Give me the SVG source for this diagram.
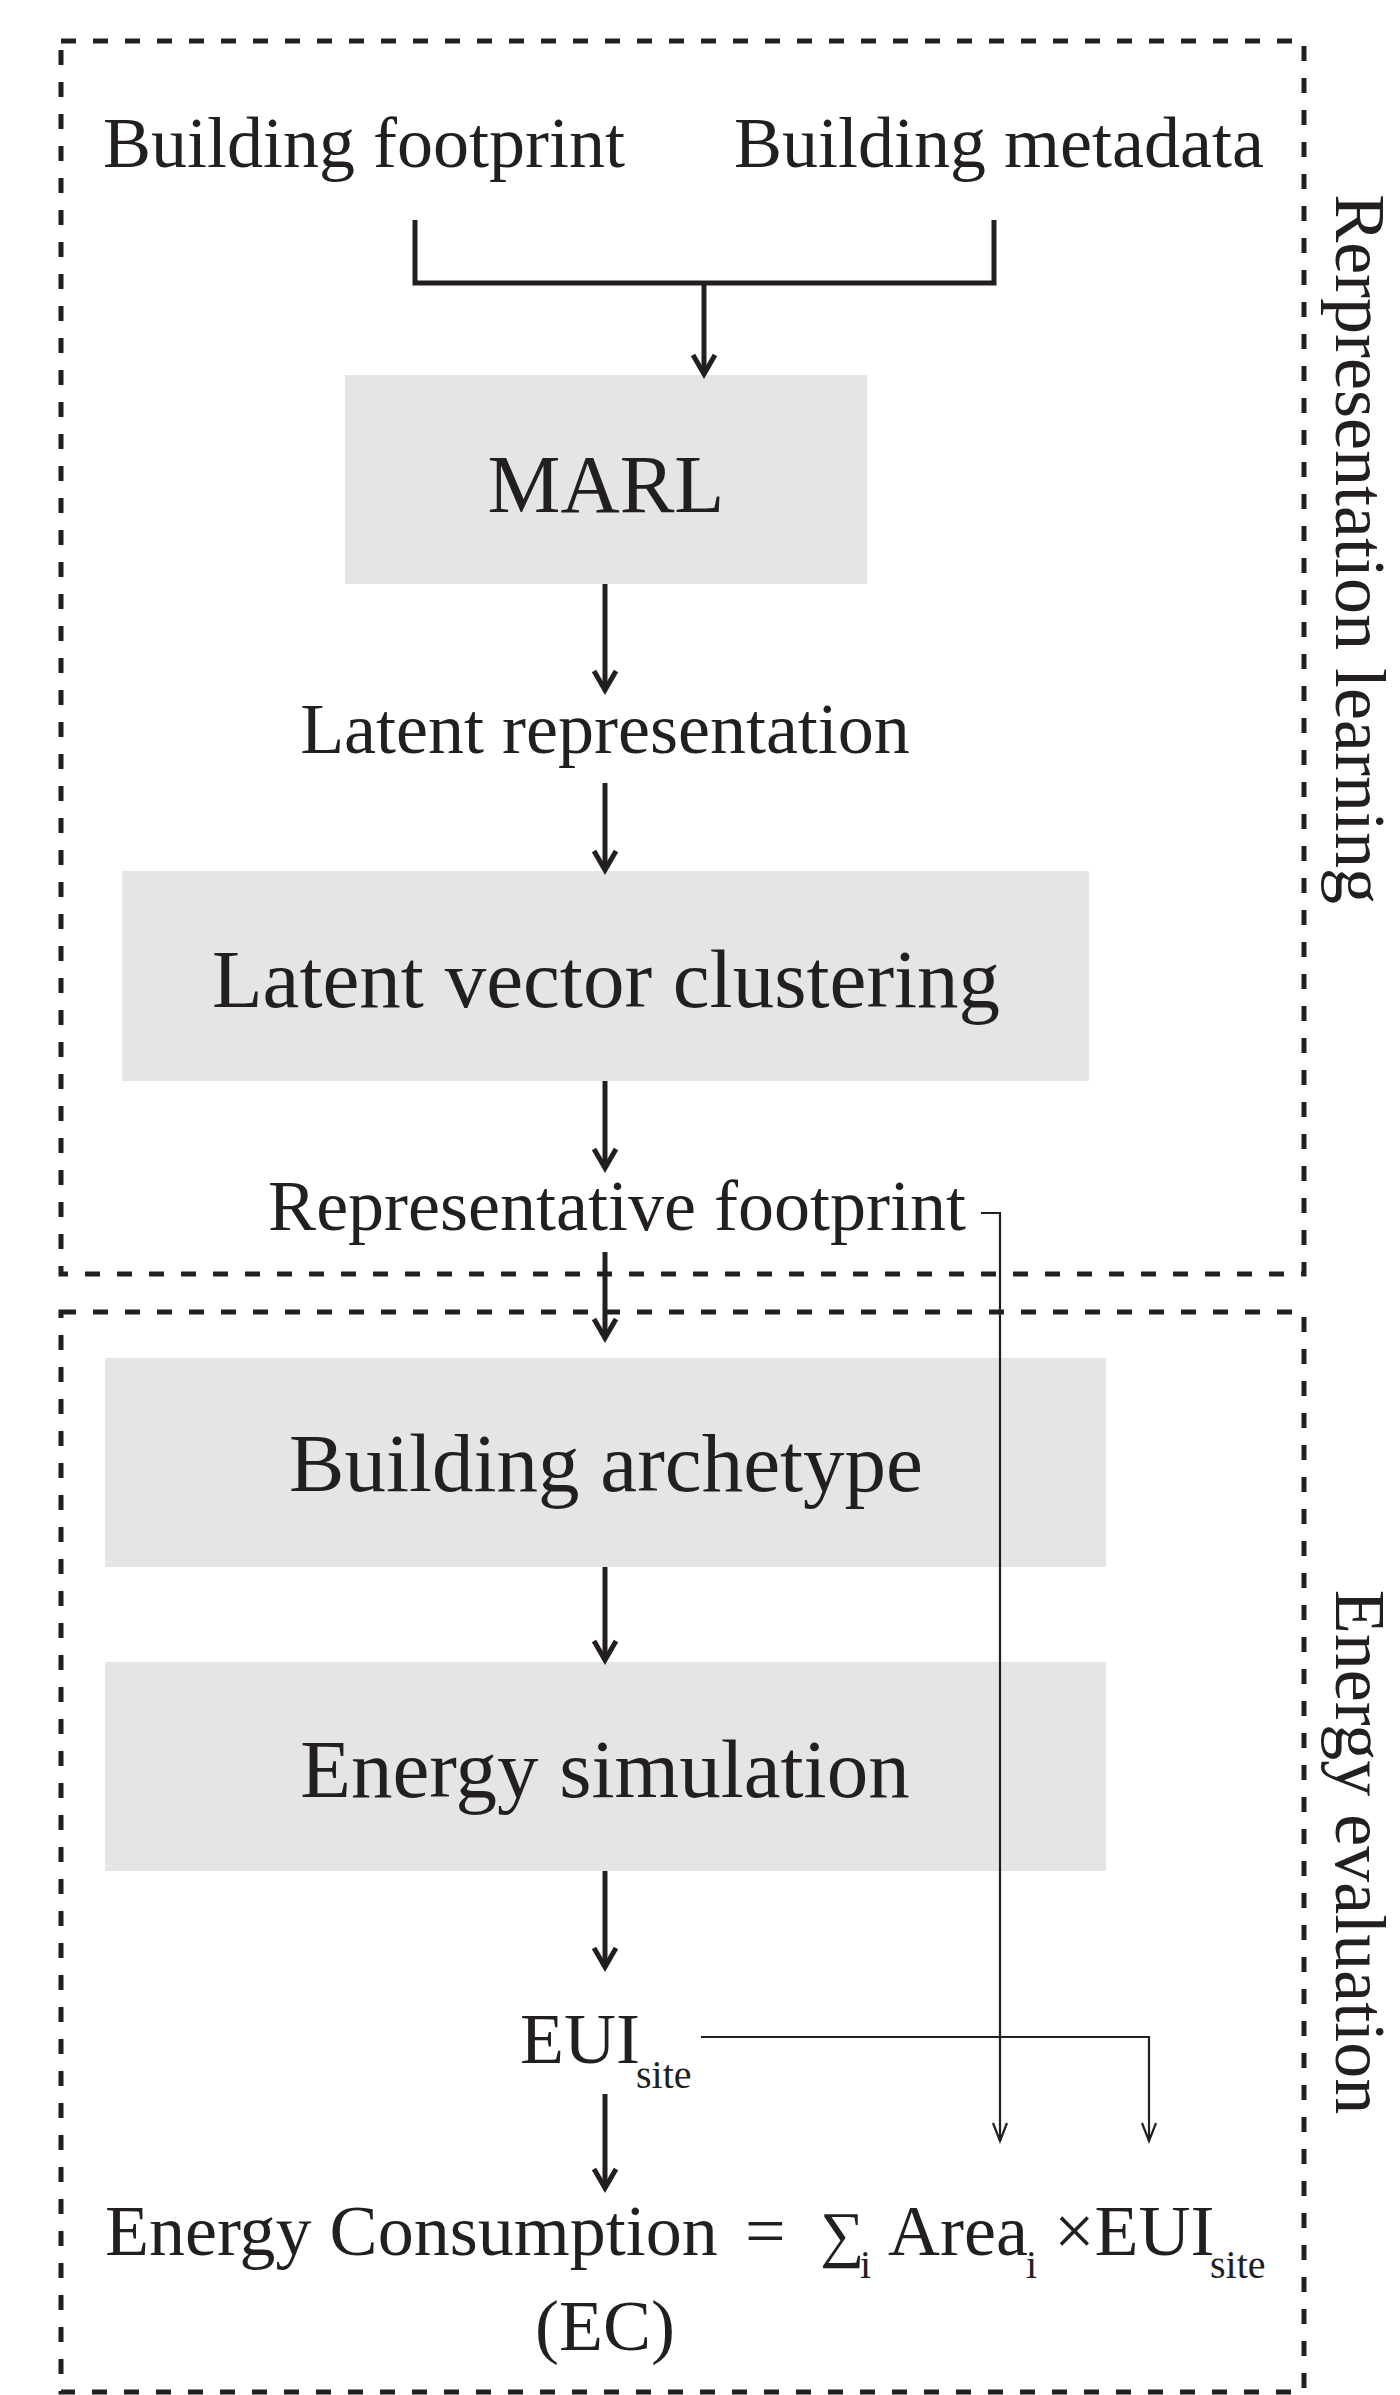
<svg xmlns="http://www.w3.org/2000/svg" width="1400" height="2395" viewBox="0 0 1400 2395">
<style>
.t{font-family:"Liberation Serif","Times New Roman",serif;fill:#231f20}
.box{fill:#e5e5e5}
.frame{fill:none;stroke:#231f20;stroke-width:5;stroke-dasharray:15 17}
.c{fill:none;stroke:#231f20;stroke-width:5}
.thin{fill:none;stroke:#231f20;stroke-width:2.2}
</style>
<defs>
<marker id="ah" markerUnits="userSpaceOnUse" markerWidth="44" markerHeight="44" viewBox="-22 -22 44 44" refX="0" refY="0" orient="auto">
<path d="M-19,-11 L0,0 L-19,11" fill="none" stroke="#231f20" stroke-width="5"/>
</marker>
<marker id="ahThin" markerUnits="userSpaceOnUse" markerWidth="44" markerHeight="44" viewBox="-22 -22 44 44" refX="0" refY="0" orient="auto">
<path d="M-18,-7 L0,0 L-18,7" fill="none" stroke="#231f20" stroke-width="2.2"/>
</marker>
</defs>
<rect width="1400" height="2395" fill="#ffffff"/>

<g id="group-representation-learning">
<rect class="frame" x="61" y="41" width="1243" height="1233"/>
<text class="t" font-size="72" text-anchor="middle" transform="translate(1336,549) rotate(90)">Rerpresentation learning</text>
</g>
<g id="group-energy-evaluation">
<rect class="frame" x="61" y="1312" width="1243" height="1080"/>
<text class="t" font-size="72" text-anchor="middle" transform="translate(1336,1852) rotate(90)">Energy evaluation</text>
</g>

<g id="node-building-footprint"><text class="t" font-size="72" x="103" y="167">Building footprint</text></g>
<g id="node-building-metadata"><text class="t" font-size="72" x="734" y="167">Building metadata</text></g>

<g id="node-marl">
<rect class="box" x="345" y="375" width="522" height="209"/>
<text class="t" font-size="82" text-anchor="middle" x="606" y="512">MARL</text>
</g>
<g id="node-latent-representation"><text class="t" font-size="72" text-anchor="middle" x="605" y="753">Latent representation</text></g>
<g id="node-latent-vector-clustering">
<rect class="box" x="122" y="871" width="967" height="210"/>
<text class="t" font-size="83" text-anchor="middle" x="606" y="1007">Latent vector clustering</text>
</g>
<g id="node-representative-footprint"><text class="t" font-size="72" text-anchor="middle" x="617" y="1230">Representative footprint</text></g>
<g id="node-building-archetype">
<rect class="box" x="105" y="1358" width="1001" height="209"/>
<text class="t" font-size="83" text-anchor="middle" x="606" y="1491">Building archetype</text>
</g>
<g id="node-energy-simulation">
<rect class="box" x="105" y="1662" width="1001" height="209"/>
<text class="t" font-size="83" text-anchor="middle" x="605" y="1797">Energy simulation</text>
</g>
<g id="node-eui-site">
<text class="t" font-size="72" x="520" y="2063">EUI<tspan font-size="40" x="636" y="2088">site</tspan></text>
</g>
<g id="node-energy-consumption">
<text class="t" font-size="72" x="105" y="2255">Energy Consumption<tspan x="745" y="2255">=</tspan><tspan font-size="62" x="820" y="2255">∑</tspan><tspan font-size="40" x="860" y="2278">i</tspan><tspan x="888" y="2255">Area</tspan><tspan font-size="40" x="1026" y="2278">i</tspan><tspan x="1054" y="2255">×EUI</tspan><tspan font-size="40" x="1210" y="2278">site</tspan></text>
<text class="t" font-size="72" text-anchor="middle" x="605" y="2350">(EC)</text>
</g>

<g id="connectors">
<path class="c" d="M415,220 V283 H994 V220"/>
<path class="c" d="M704,283 V374" marker-end="url(#ah)"/>
<path class="c" d="M605,584 V690" marker-end="url(#ah)"/>
<path class="c" d="M605,783 V870" marker-end="url(#ah)"/>
<path class="c" d="M605,1081 V1168" marker-end="url(#ah)"/>
<path class="c" d="M605,1252 V1338" marker-end="url(#ah)"/>
<path class="c" d="M605,1567 V1660" marker-end="url(#ah)"/>
<path class="c" d="M605,1871 V1967" marker-end="url(#ah)"/>
<path class="c" d="M605,2094 V2188" marker-end="url(#ah)"/>
<path class="thin" d="M981,1213 H1000 V2141" marker-end="url(#ahThin)"/>
<path class="thin" d="M701,2037 H1149 V2141" marker-end="url(#ahThin)"/>
</g>
</svg>
